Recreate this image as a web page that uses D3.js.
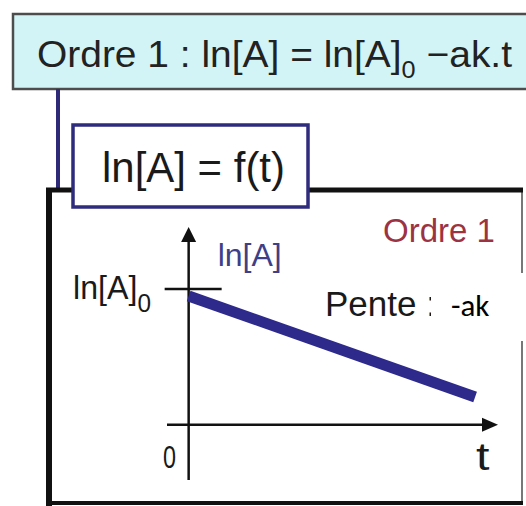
<!DOCTYPE html>
<html>
<head>
<meta charset="utf-8">
<script src="https://cdn.jsdelivr.net/npm/d3@7"></script>
<style>
  html, body { margin: 0; padding: 0; background: #fff; }
  svg { display: block; }
  text { font-family: "Liberation Sans", Arial, sans-serif; }
</style>
</head>
<body>
<div id="chart"></div>
<script>
// valeurs du schéma (unités arbitraires)
const tDomain = [-0.7, 10];
const lnADomain = [-2.8, 10];
const lnA0 = 6.86;
const lineT = [0, 9.26];
const lineLnA = [6.51, 1.40];
const originLabel = "0";
const xLabel = "t";
const yLabel = "ln[A]";

const width = 526, height = 506;

const svg = d3.select("#chart")
    .append("svg")
    .attr("width", width)
    .attr("height", height);

// étire/serre un texte pour qu'il tienne entre x0 et x1
function fitText(sel, x0, x1, y) {
    const w = sel.node().getBBox().width;
    sel.attr("transform", `translate(${x0},${y}) scale(${(x1 - x0) / w},1)`);
}

// encadré du haut
svg.append("rect")
    .attr("x", 13).attr("y", 14)
    .attr("width", 540).attr("height", 75)
    .attr("fill", "#d3f4f7")
    .attr("stroke", "#4d4d4d")
    .attr("stroke-width", 2.5);

const eq = svg.append("text")
    .attr("font-size", 37)
    .attr("fill", "#222");
eq.append("tspan").text("Ordre 1 : ln[A] = ln[A]");
eq.append("tspan").attr("font-size", 24).attr("dy", 11).text("0");
eq.append("tspan").attr("dy", -11).text(" \u2212ak.t");
fitText(eq, 37, 513, 67);

// trait de liaison
svg.append("line")
    .attr("x1", 58).attr("x2", 58)
    .attr("y1", 89).attr("y2", 191)
    .attr("stroke", "#2e2a78")
    .attr("stroke-width", 4);

// cadre du graphe
svg.append("line")
    .attr("x1", 522).attr("x2", 522).attr("y1", 190).attr("y2", 504)
    .attr("stroke", "#777").attr("stroke-width", 2);
svg.append("line")
    .attr("x1", 46).attr("x2", 523).attr("y1", 190).attr("y2", 190)
    .attr("stroke", "#111").attr("stroke-width", 5);
svg.append("line")
    .attr("x1", 49).attr("x2", 49).attr("y1", 188).attr("y2", 506)
    .attr("stroke", "#111").attr("stroke-width", 6);
svg.append("line")
    .attr("x1", 46).attr("x2", 523).attr("y1", 503).attr("y2", 503)
    .attr("stroke", "#111").attr("stroke-width", 4);

// étiquette ln[A] = f(t)
svg.append("rect")
    .attr("x", 73).attr("y", 125)
    .attr("width", 235).attr("height", 82)
    .attr("fill", "#fff")
    .attr("stroke", "#2f2b7d")
    .attr("stroke-width", 3.5);

const title = svg.append("text")
    .attr("font-size", 42)
    .attr("fill", "#1a1a1a")
    .text("ln[A] = f(t)");
fitText(title, 102, 285, 182);

// échelles
const x = d3.scaleLinear().domain(tDomain).range([167, 498]);
const y = d3.scaleLinear().domain(lnADomain).range([480, 227]);

const axes = svg.append("g")
    .attr("stroke", "#111")
    .attr("stroke-width", 2.5);

axes.append("line")
    .attr("x1", x(0)).attr("x2", x(0))
    .attr("y1", y(lnADomain[0])).attr("y2", y(lnADomain[1]) + 10);
axes.append("line")
    .attr("x1", x(tDomain[0])).attr("x2", x(tDomain[1]) - 10)
    .attr("y1", y(0)).attr("y2", y(0));

svg.append("path")
    .attr("d", `M${x(0)},${y(lnADomain[1])} L${x(0) - 7.5},${y(lnADomain[1]) + 15} L${x(0) + 7.5},${y(lnADomain[1]) + 15} Z`)
    .attr("fill", "#111");
svg.append("path")
    .attr("d", `M${x(tDomain[1])},${y(0)} L${x(tDomain[1]) - 16},${y(0) - 7} L${x(tDomain[1]) - 16},${y(0) + 7} Z`)
    .attr("fill", "#111");

// graduation ln[A]0
axes.append("line")
    .attr("x1", x(0) - 24).attr("x2", x(0) + 33)
    .attr("y1", y(lnA0)).attr("y2", y(lnA0));

// droite ln[A] = ln[A]0 - ak.t
const lineData = lineT.map((t, i) => ({ t: t, v: lineLnA[i] }));
svg.append("path")
    .datum(lineData)
    .attr("d", d3.line().x(d => x(d.t)).y(d => y(d.v)))
    .attr("fill", "none")
    .attr("stroke", "#2d2a8c")
    .attr("stroke-width", 11);

// textes des axes
svg.append("text")
    .attr("x", x(0) + 29).attr("y", y(lnADomain[1]) + 39)
    .attr("font-size", 32)
    .attr("fill", "#3f3f88")
    .text(yLabel);

const lab0 = svg.append("text")
    .attr("font-size", 33)
    .attr("fill", "#1a1a1a");
lab0.append("tspan").text("ln[A]");
lab0.append("tspan").attr("font-size", 25).attr("dy", 13).text("0");
fitText(lab0, 73, 151, 299);

const orig = svg.append("text")
    .attr("font-size", 32)
    .attr("fill", "#1a1a1a")
    .text(originLabel);
fitText(orig, 163, 176, 468);

const tLab = svg.append("text")
    .attr("font-size", 38)
    .attr("fill", "#1a1a1a")
    .text(xLabel);
fitText(tLab, 476, 490, 470);

svg.append("text")
    .attr("x", 383).attr("y", 242)
    .attr("font-size", 33)
    .attr("fill", "#9b3343")
    .text("Ordre 1");

const pente = svg.append("text")
    .attr("font-size", 35)
    .attr("fill", "#1a1a1a")
    .text("Pente :");
fitText(pente, 325, 436, 316);

// cache blanc avec -ak
svg.append("rect")
    .attr("x", 431).attr("y", 273)
    .attr("width", 100).attr("height", 68)
    .attr("fill", "#fff");

svg.append("text")
    .attr("x", 451).attr("y", 316)
    .attr("font-size", 31)
    .attr("fill", "#000")
    .style("font-family", "Carlito, Calibri, 'Open Sans', sans-serif")
    .text("-ak");
</script>
</body>
</html>
